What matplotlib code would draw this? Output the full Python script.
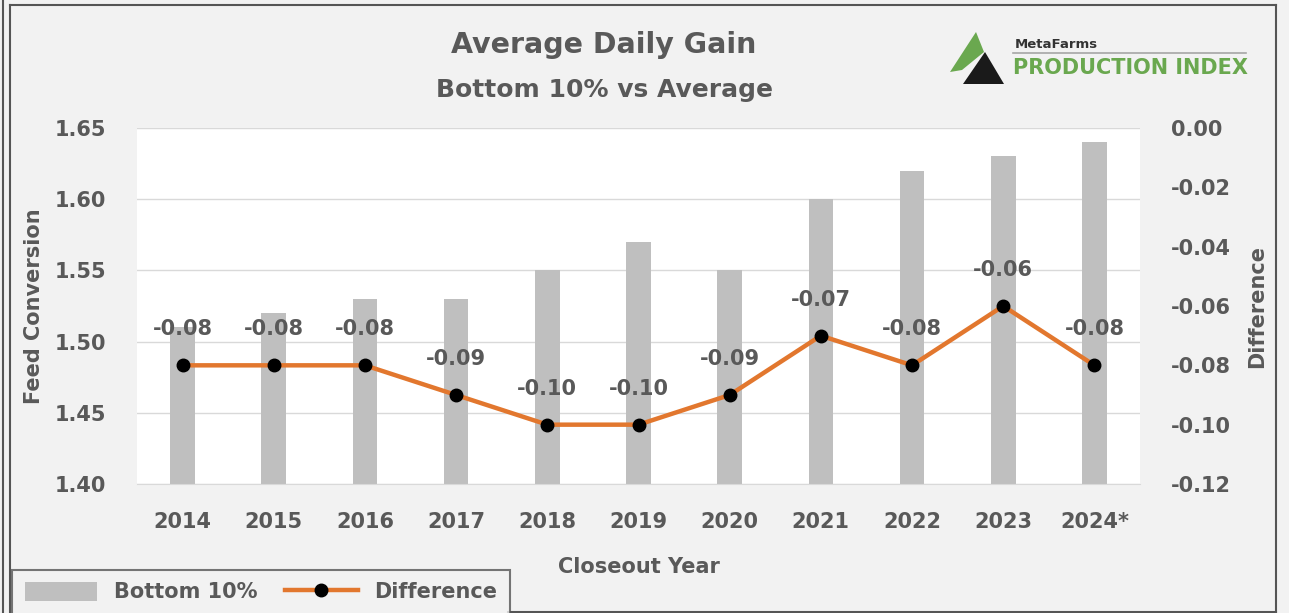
#!/usr/bin/env python3

import matplotlib.pyplot as plt
from matplotlib.lines import Line2D
from matplotlib.patches import Patch, Polygon

years = ["2014", "2015", "2016", "2017", "2018", "2019", "2020", "2021", "2022", "2023", "2024*"]
bottom_10 = [1.51, 1.52, 1.53, 1.53, 1.55, 1.57, 1.55, 1.60, 1.62, 1.63, 1.64]
difference = [-0.08, -0.08, -0.08, -0.09, -0.10, -0.10, -0.09, -0.07, -0.08, -0.06, -0.08]
left_ticks = [1.40, 1.45, 1.50, 1.55, 1.60, 1.65]
right_ticks = [0.00, -0.02, -0.04, -0.06, -0.08, -0.10, -0.12]

TEXT = "#595959"
BAR = "#bfbfbf"
ORANGE = "#e2772e"
BG = "#f2f2f2"
FONT = "DejaVu Sans"

plt.rcParams["font.family"] = FONT
plt.rcParams["font.weight"] = "bold"
plt.rcParams["axes.labelweight"] = "bold"

W, H = 1289, 613
fig = plt.figure(figsize=(W / 100, H / 100), dpi=100, facecolor=BG)


def fx(px):
    return px / W


def fy(py):
    return 1 - py / H


ax = fig.add_axes([fx(137), fy(484), fx(1140) - fx(137), fy(128) - fy(484)])
ax.set_facecolor("white")
x = list(range(len(years)))
ax.bar(x, bottom_10, width=0.27, color=BAR, zorder=2)
ax.set_ylim(1.40, 1.65)
ax.set_xlim(-0.5, len(years) - 0.5)
ax.set_yticks(left_ticks)
ax.set_yticklabels([f"{v:.2f}" for v in left_ticks])
ax.set_xticks(x)
ax.set_xticklabels(years)
ax.grid(True, axis="y", color="#d9d9d9", linewidth=1.0, zorder=0)
for side in ["top", "right", "left"]:
    ax.spines[side].set_visible(False)
ax.spines["bottom"].set_color("#d9d9d9")
ax.tick_params(axis="both", length=0, labelsize=15, labelcolor=TEXT)
ax.tick_params(axis="x", pad=20)
ax.tick_params(axis="y", pad=22)
ax.set_xlabel("Closeout Year", fontsize=15, color=TEXT, labelpad=18)
ax.set_ylabel("Feed Conversion", fontsize=15, color=TEXT, labelpad=8)

ax2 = ax.twinx()
ax2.plot(x, difference, color=ORANGE, linewidth=3.2, marker="o", markersize=9,
         markerfacecolor="black", markeredgecolor="black", zorder=4)
ax2.set_ylim(-0.12, 0.0)
ax2.set_yticks(right_ticks)
ax2.set_yticklabels([f"{v:.2f}" for v in right_ticks])
for side in ["top", "right", "left", "bottom"]:
    ax2.spines[side].set_visible(False)
ax2.tick_params(axis="y", length=0, labelsize=15, labelcolor=TEXT, pad=22)
ax2.set_ylabel("Difference", fontsize=15, color=TEXT, labelpad=12)
for xi, v in zip(x, difference):
    ax2.annotate(f"{v:.2f}", (xi, v), xytext=(0, 26), textcoords="offset points",
                 ha="center", va="center", fontsize=15, color=TEXT, zorder=5)

fig.text(fx(604), fy(45), "Average Daily Gain", ha="center", va="center",
         fontsize=20.5, color=TEXT)
fig.text(fx(604), fy(90), "Bottom 10% vs Average", ha="center", va="center",
         fontsize=18, color=TEXT)

# logo
fig.patches.append(Polygon([(fx(950), fy(72)), (fx(976), fy(32)), (fx(984), fy(52)), (fx(962), fy(70))],
                           closed=True, transform=fig.transFigure, facecolor="#6aa84f", edgecolor="none"))
fig.patches.append(Polygon([(fx(963), fy(84)), (fx(985), fy(52)), (fx(1004), fy(84))],
                           closed=True, transform=fig.transFigure, facecolor="#1a1a1a", edgecolor="none"))
fig.text(fx(1015), fy(44), "MetaFarms", ha="left", va="center", fontsize=9.5, color="#333333")
fig.add_artist(Line2D([fx(1013), fx(1246)], [fy(53), fy(53)], color="#a6a6a6", linewidth=1.2))
fig.text(fx(1013), fy(68), "PRODUCTION INDEX", ha="left", va="center", fontsize=15,
         color="#6aa84f")

# outer frame
frame = dict(color="#555555", linewidth=1.5, transform=fig.transFigure)
fig.add_artist(Line2D([fx(3), fx(3)], [0, 1], **frame))
fig.add_artist(Line2D([fx(10), fx(10)], [0, fy(5)], **frame))
fig.add_artist(Line2D([fx(10), fx(1276)], [fy(5), fy(5)], **frame))
fig.add_artist(Line2D([fx(1276), fx(1276)], [fy(5), fy(612)], **frame))
fig.add_artist(Line2D([fx(508), fx(1276)], [fy(612), fy(612)], **frame))

handles = [
    Patch(facecolor=BAR, edgecolor="none", label="Bottom 10%"),
    Line2D([0], [0], color=ORANGE, linewidth=3.2, marker="o", markersize=9,
           markerfacecolor="black", markeredgecolor="black", label="Difference"),
]
leg = fig.legend(handles=handles, loc="lower left", bbox_to_anchor=(fx(12), fy(615)),
                 ncol=2, frameon=True, fontsize=15, labelcolor=TEXT, handlelength=3.5,
                 handleheight=1.0, columnspacing=1.3, borderpad=0.6, borderaxespad=0,
                 fancybox=False)
leg.get_frame().set_edgecolor("#555555")
leg.get_frame().set_linewidth(1.5)
leg.get_frame().set_facecolor(BG)

fig.savefig("out.png", dpi=100, facecolor=BG)
